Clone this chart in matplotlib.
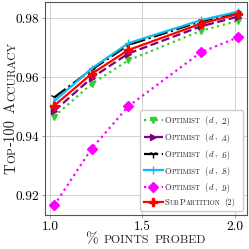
import re
import numpy as np
import matplotlib
matplotlib.use("Agg")
import matplotlib.pyplot as plt
from matplotlib.transforms import IdentityTransform

# values
points_probed = [1.023, 1.225, 1.424, 1.816, 2.016]
opt_2 = [0.9466, 0.9577, 0.9657, 0.9757, 0.9791]
opt_4 = [0.9485, 0.9597, 0.9680, 0.9772, 0.9805]
opt_6 = [0.9531, 0.9625, 0.9709, 0.9789, 0.9817]
opt_8 = [0.9518, 0.9629, 0.9715, 0.9793, 0.9822]
opt_9 = [0.9165, 0.9357, 0.9501, 0.9684, 0.9735]
subpartition = [0.9503, 0.9611, 0.9692, 0.9781, 0.9814]

labels = ["Optimist ($d$, .2)", "Optimist ($d$, .4)", "Optimist ($d$, .6)",
          "Optimist ($d$, .8)", "Optimist ($d$, .9)", "SubPartition (2)"]
yticks = [0.92, 0.94, 0.96, 0.98]
xticks = [1.0, 1.5, 2.0]

plt.rcParams['font.family'] = 'serif'
plt.rcParams['font.serif'] = ['cmr10']
plt.rcParams['mathtext.fontset'] = 'cm'
plt.rcParams['axes.formatter.use_mathtext'] = True

W = 249
fig = plt.figure(figsize=(W / 100, W / 100), dpi=100)
ax = fig.add_axes([45 / W, 34 / W, 202 / W, 213 / W])

styles = [
    (opt_2, dict(color='#33cc33', ls=':', marker='v', ms=5)),
    (opt_4, dict(color='#800080', ls='--', marker='>', ms=5)),
    (opt_6, dict(color='black', ls='-.', marker='1', ms=6)),
    (opt_8, dict(color='#11bbee', ls='-', marker='|', ms=6)),
    (opt_9, dict(color='#ff00ff', ls=':', marker='D', ms=5)),
    (subpartition, dict(color='#ff0000', ls='-', marker='P', ms=6)),
]
for (vals, st), lab in zip(styles, labels):
    ax.plot(points_probed, vals, lw=1.6, label=lab, **st)

ax.set_xticks(xticks)
ax.set_yticks(yticks)
ax.set_xticklabels(["%.1f" % v for v in xticks])
ax.set_yticklabels(["%.2f" % v for v in yticks])
ax.tick_params(labelsize=9.6, length=2, width=0.6, color='#888888', pad=2)
ax.grid(True, color='#d0d0d0', lw=0.7)
for sp in ax.spines.values():
    sp.set_color('#555555')
    sp.set_linewidth(0.8)

leg = ax.legend(loc='lower right', fontsize=6.2, handlelength=2.2, handletextpad=0.2,
                labelspacing=0.45, borderpad=0.4, framealpha=1, edgecolor='#cccccc')
# placeholders that reserve room for the small-caps labels drawn below
for lt, lab in zip(leg.get_texts(), labels):
    lt.set_text(lab.upper().replace('$D$', '$d$'))
    lt.set_fontsize(5.7)

fig.canvas.draw()
renderer = fig.canvas.get_renderer()


def runs_of(s):
    # split into (text, small) pieces; lowercase letters become small caps
    out = []
    for part in re.split(r'(\$[^$]*\$| )', s):
        if not part:
            continue
        if part.startswith('$') or part == ' ':
            out.append((part, False))
            continue
        for m in re.finditer(r'[a-z]+|[^a-z]+', part):
            t = m.group(0)
            out.append((t.upper(), True) if t.islower() else (t, False))
    return out


def smallcaps(x, y, s, size, rotation=0, ha='center', color='#222222', gap=0.4):
    pieces = []
    for t, small in runs_of(s):
        if t == ' ':
            pieces.append((None, size * 0.33 * 100 / 72))
            continue
        txt = fig.text(0, 0, t, fontsize=size * 0.78 if small else size, color=color,
                       transform=IdentityTransform(), ha='left', va='baseline',
                       rotation_mode='anchor')
        pieces.append((txt, txt.get_window_extent(renderer).width + gap))
    total = sum(w for _, w in pieces)
    pos = -total / 2 if ha == 'center' else 0
    for txt, w in pieces:
        if txt is not None:
            if rotation == 90:
                txt.set_position((x, y + pos))
                txt.set_rotation(90)
            else:
                txt.set_position((x + pos, y))
        pos += w


for lt, lab in zip(leg.get_texts(), labels):
    bx, by = lt.get_transform().transform(lt.get_unitless_position())
    lt.set_alpha(0)
    smallcaps(bx, by, lab, 6.2, ha='left')

smallcaps(146, 6, "% points probed", 11)
smallcaps(15, 141, "Top-100 Accuracy", 10.6, rotation=90, gap=0.6)

fig.savefig("out.png", dpi=100)
